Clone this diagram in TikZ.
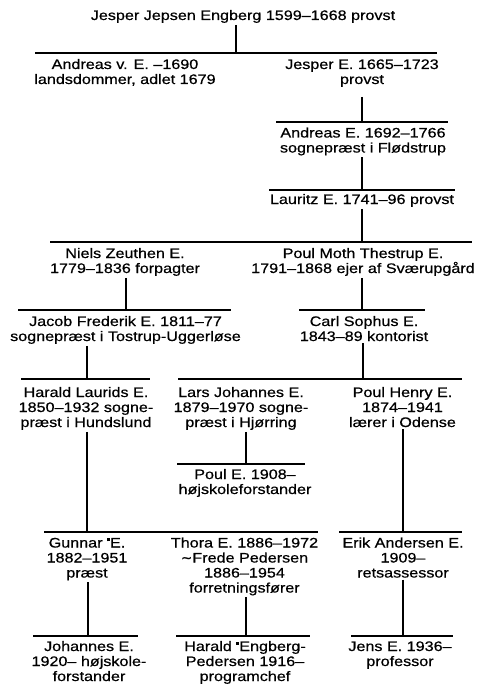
\documentclass[tikz,border=0pt]{standalone}
\usepackage{fontspec}
\setmainfont{Liberation Sans}[FakeStretch=1.17,FakeBold=0.6]
\newfontfamily\symfont{DejaVu Sans}[FakeBold=0.6]
\newcommand\sqmark{\raisebox{6.2pt}{\rule{3pt}{3pt}}}
\begin{document}
\begin{tikzpicture}[x=1pt,y=-1pt,
  person/.style={align=center, inner sep=0pt, outer sep=0pt, anchor=base,
    font=\fontsize{13.8}{15}\selectfont},
  link/.style={line width=1.1pt, shorten <=2pt},
  bar/.style={line width=1.1pt}]
\useasboundingbox (0,0) rectangle (486,687);

% people (anchor = baseline of the last line)
\node[person] (top)    at (243,20)  {Jesper Jepsen Engberg 1599–1668 provst};
\node[person] (andv)   at (125,84)  {Andreas v. E. –1690\\landsdommer, adlet 1679};
\node[person] (jesE)   at (362,84)  {Jesper E. 1665–1723\\provst};
\node[person] (andE)   at (363,152.5) {Andreas E. 1692–1766\\sognepræst i Flødstrup};
\node[person] (laur)   at (362,204) {Lauritz E. 1741–96 provst};
\node[person] (niels)  at (125,273) {Niels Zeuthen E.\\1779–1836 forpagter};
\node[person] (poulM)  at (363,273) {Poul Moth Thestrup E.\\1791–1868 ejer af Sværupgård};
\node[person] (jacob)  at (125.5,341) {Jacob Frederik E. 1811–77\\sognepræst i Tostrup-Uggerløse};
\node[person] (carl)   at (364,341) {Carl Sophus E.\\1843–89 kontorist};
\node[person] (haraldL) at (86,427) {Harald Laurids E.\\1850–1932 sogne-\\præst i Hundslund};
\node[person] (lars)   at (241,427) {Lars Johannes E.\\1879–1970 sogne-\\præst i Hjørring};
\node[person] (poulH)  at (402.5,427) {Poul Henry E.\\1874–1941\\lærer i Odense};
\node[person] (poulE)  at (245,494) {Poul E. 1908–\\højskoleforstander};
\node[person] (gunnar) at (87,577.5) {Gunnar \sqmark E.\\1882–1951\\præst};
\node[person] (thora)  at (244.5,592.5) {Thora E. 1886–1972\\{\symfont\char"223C}Frede Pedersen\\1886–1954\\forretningsfører};
\node[person] (erik)   at (403,577.5) {Erik Andersen E.\\1909–\\retsassessor};
\node[person] (johs)   at (89,681) {Johannes E.\\1920– højskole-\\forstander};
\node[person] (haraldE) at (245,681) {Harald \sqmark Engberg-\\Pedersen 1916–\\programchef};
\node[person] (jens)   at (400,666) {Jens E. 1936–\\professor};

% junctions and bar ends
\coordinate (j1) at (236,53);   \coordinate (b1l) at (35,53);   \coordinate (b1r) at (437,53);
\coordinate (j2) at (362,122);  \coordinate (b2l) at (276,122); \coordinate (b2r) at (448,122);
\coordinate (j3) at (362,190);  \coordinate (b3l) at (269,190); \coordinate (b3r) at (455,190);
\coordinate (j4) at (362,242);  \coordinate (b4l) at (50,242);  \coordinate (b4r) at (472,242);
\coordinate (j5a) at (126,310); \coordinate (b5al) at (18,310); \coordinate (b5ar) at (231,310);
\coordinate (j5b) at (362,310); \coordinate (b5bl) at (299,310); \coordinate (b5br) at (425,310);
\coordinate (j6a) at (87,379);  \coordinate (b6al) at (21,379); \coordinate (b6ar) at (150,379);
\coordinate (j6b) at (363,379); \coordinate (b6bl) at (178,379); \coordinate (b6br) at (462,379);
\coordinate (j7) at (246,464);  \coordinate (b7l) at (177,464); \coordinate (b7r) at (305,464);
\coordinate (j8a) at (87,532);  \coordinate (b8al) at (44,532); \coordinate (b8ar) at (318,532);
\coordinate (j8b) at (403,532); \coordinate (b8bl) at (339,532); \coordinate (b8br) at (462,532);
\coordinate (j9a) at (88,636);  \coordinate (b9al) at (33,636); \coordinate (b9ar) at (138,636);
\coordinate (j9b) at (246,636); \coordinate (b9bl) at (176,636); \coordinate (b9br) at (310,636);
\coordinate (j9c) at (403,636); \coordinate (b9cl) at (351,636); \coordinate (b9cr) at (453,636);

% bars
\foreach \a/\b in {b1l/b1r,b2l/b2r,b3l/b3r,b4l/b4r,b5al/b5ar,b5bl/b5br,b6al/b6ar,b6bl/b6br,
                   b7l/b7r,b8al/b8ar,b8bl/b8br,b9al/b9ar,b9bl/b9br,b9cl/b9cr}
  \draw[bar] (\a) -- (\b);

% descent lines
\draw[link] (top.south -| j1) -- (j1);
\draw[link, shorten <=10pt] (jesE.south -| j2) -- (j2);
\draw[link] (andE.south -| j3) -- (j3);
\draw[link] (laur.south -| j4) -- (j4);
\draw[link] (niels.south -| j5a) -- (j5a);
\draw[link] (poulM.south -| j5b) -- (j5b);
\draw[link] (jacob.south -| j6a) -- (j6a);
\draw[link] (carl.south -| j6b) -- (j6b);
\draw[link] (haraldL.south -| j8a) -- (j8a);
\draw[link] (lars.south -| j7) -- (j7);
\draw[link] (poulH.south -| j8b) -- (j8b);
\draw[link] (gunnar.south -| j9a) -- (j9a);
\draw[link] (thora.south -| j9b) -- (j9b);
\draw[link] (erik.south -| j9c) -- (j9c);
\end{tikzpicture}
\end{document}
